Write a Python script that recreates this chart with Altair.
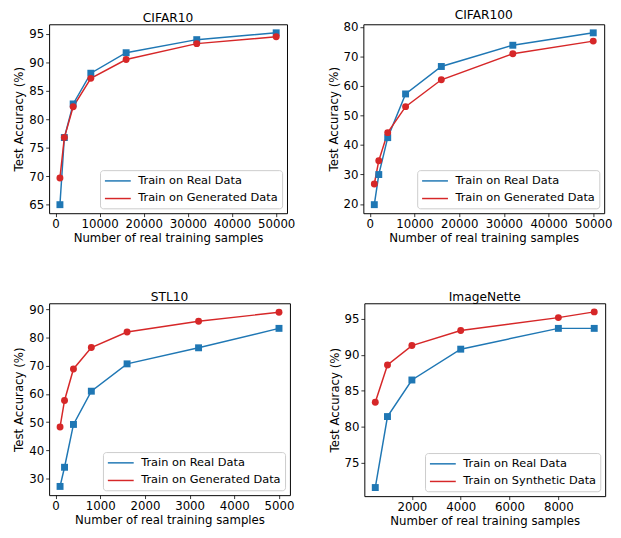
import altair as alt
import pandas as pd

# ---------------- data ----------------
cifar10_x = [1000, 2000, 4000, 8000, 16000, 32000, 50000]
cifar10_real = [65.0, 76.8, 82.7, 88.1, 91.7, 94.0, 95.2]
cifar10_gen = [69.7, 76.8, 82.2, 87.2, 90.5, 93.3, 94.5]

cifar100_x = [1000, 2000, 4000, 8000, 16000, 32000, 50000]
cifar100_real = [19.8, 30.0, 42.5, 57.3, 66.6, 73.8, 78.0]
cifar100_gen = [26.8, 34.7, 44.2, 53.0, 62.1, 70.9, 75.2]

stl10_x = [100, 200, 400, 800, 1600, 3200, 5000]
stl10_real = [27.2, 34.0, 49.2, 61.0, 70.7, 76.4, 83.3]
stl10_gen = [48.3, 57.7, 68.9, 76.5, 82.0, 85.8, 89.0]

imagenette_x = [500, 1000, 2000, 4000, 8000, 9469]
imagenette_real = [71.5, 81.4, 86.5, 90.8, 93.7, 93.7]
imagenette_gen = [83.4, 88.6, 91.3, 93.4, 95.2, 96.0]

real_label = "Train on Real Data"
gen_label = "Train on Generated Data"
syn_label = "Train on Synthetic Data"

BLUE = "#1f77b4"
RED = "#d62728"
FONT = "DejaVu Sans"


def panel(title, xs, real, gen, glabel, xdom, ydom, xticks, yticks, w, h):
    df = pd.DataFrame({
        "x": xs + xs,
        "acc": real + gen,
        "series": [real_label] * len(xs) + [glabel] * len(xs),
    })
    dom = [real_label, glabel]
    x = alt.X("x:Q", scale=alt.Scale(domain=xdom, nice=False, zero=False),
              axis=alt.Axis(values=xticks, format="d", title="Number of real training samples"))
    y = alt.Y("acc:Q", scale=alt.Scale(domain=ydom, nice=False, zero=False),
              axis=alt.Axis(values=yticks, format="d", title="Test Accuracy (%)"))
    color = alt.Color("series:N", scale=alt.Scale(domain=dom, range=[BLUE, RED]),
                      legend=alt.Legend(title=None, orient="bottom-right",
                                        symbolType="M-1,0H3.4"))
    base = alt.Chart(df)
    line = base.mark_line(strokeWidth=1.5).encode(x=x, y=y, color=color)
    pts_real = base.transform_filter(alt.datum.series == real_label).mark_point(
        filled=True, shape="square", size=50, opacity=1, color=BLUE).encode(x=x, y=y)
    pts_gen = base.transform_filter(alt.datum.series == glabel).mark_point(
        filled=True, shape="circle", size=50, opacity=1, color=RED).encode(x=x, y=y)
    return alt.layer(line, pts_real, pts_gen).properties(
        title=alt.TitleParams(title, font=FONT, fontSize=12.5, fontWeight="normal",
                              color="black", offset=0),
        width=w, height=h)


p1 = panel("CIFAR10", cifar10_x, cifar10_real, cifar10_gen, gen_label,
           [-1450, 52450], [63.5, 96.7], [0, 10000, 20000, 30000, 40000, 50000],
           [65, 70, 75, 80, 85, 90, 95], 243, 193)
p2 = panel("CIFAR100", cifar100_x, cifar100_real, cifar100_gen, gen_label,
           [-1450, 52450], [16.9, 80.9], [0, 10000, 20000, 30000, 40000, 50000],
           [20, 30, 40, 50, 60, 70, 80], 246, 193)
p3 = panel("STL10", stl10_x, stl10_real, stl10_gen, gen_label,
           [-145, 5245], [24.1, 92.2], [0, 1000, 2000, 3000, 4000, 5000],
           [30, 40, 50, 60, 70, 80, 90], 246, 196)
p4 = panel("ImageNette", imagenette_x, imagenette_real, imagenette_gen, syn_label,
           [52, 9917], [70.3, 97.2], [2000, 4000, 6000, 8000],
           [75, 80, 85, 90, 95], 246, 197)


def res(c):
    return c.resolve_scale(x="independent", y="independent",
                           color="independent").resolve_legend(color="independent")


row1 = res(alt.hconcat(p1, p2, spacing=31))
row2 = res(alt.hconcat(p3, p4, spacing=33))
chart = res(alt.vconcat(row1, row2, spacing=48)).properties(
    padding={"left": 4, "top": -6, "right": 0, "bottom": 0}
).configure_view(
    stroke="black", strokeWidth=1
).configure_axis(
    grid=False, domain=False, tickColor="black", tickSize=3.5, tickWidth=0.8,
    labelColor="black", titleColor="black", labelFont=FONT, titleFont=FONT,
    labelFontSize=12, titleFontSize=12, titleFontWeight="normal",
    labelPadding=2, titlePadding=3
).configure_title(
    font=FONT, fontSize=12.5, fontWeight="normal", color="black", offset=0
).configure_legend(
    fillColor="rgba(255,255,255,0.8)", strokeColor="#cccccc", cornerRadius=3,
    padding=4, offset=5, labelFont=FONT, labelFontSize=11.6, labelColor="black",
    symbolSize=144, symbolStrokeWidth=1.5, symbolFillColor="transparent",
    rowPadding=5, labelOffset=21
)

chart.save("out.html", embed_options={"renderer": "svg", "actions": False})
